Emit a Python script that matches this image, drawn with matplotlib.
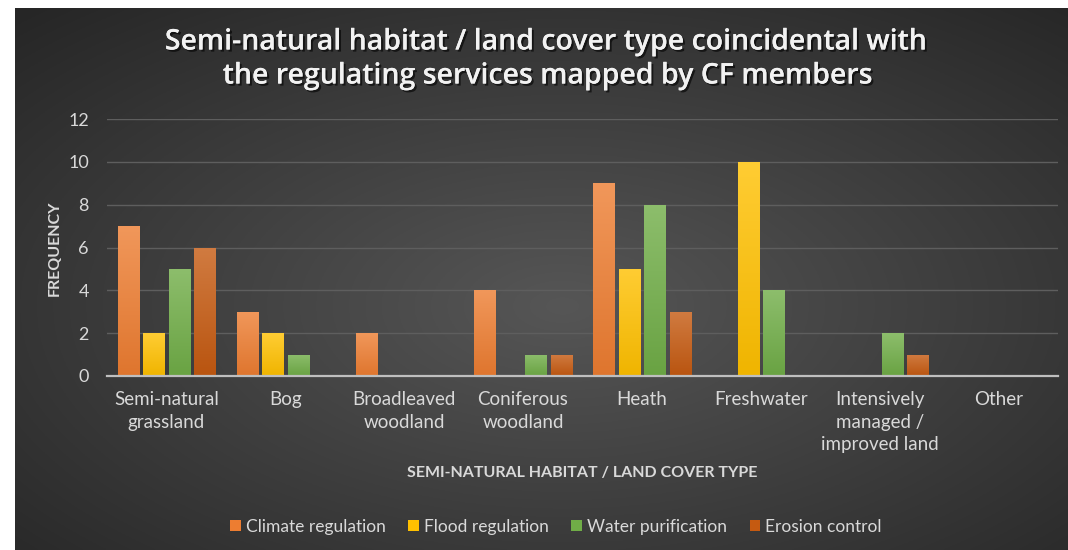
import numpy as np
import matplotlib.pyplot as plt
import matplotlib.patheffects as pe
from matplotlib.colors import to_rgb

categories = ["Semi-natural\ngrassland", "Bog", "Broadleaved\nwoodland", "Coniferous\nwoodland",
              "Heath", "Freshwater", "Intensively\nmanaged /\nimproved land", "Other"]
series_names = ["Climate regulation", "Flood regulation", "Water purification", "Erosion control"]
climate = [7, 3, 2, 4, 9, 0, 0, 0]
flood = [2, 2, 0, 0, 5, 10, 0, 0]
water = [5, 1, 0, 1, 8, 4, 2, 0]
erosion = [6, 0, 0, 1, 3, 0, 1, 0]
colors = ["#ED7D31", "#FFC000", "#70AD47", "#C55A11"]

text_col = "#d9d9d9"
plt.rcParams["font.family"] = ["Lato", "DejaVu Sans"]

fig = plt.figure(figsize=(10.68, 5.5), dpi=100, facecolor="white")

# dark panel with a radial gradient behind the chart
bg = fig.add_axes([15 / 1068, 0, 1053 / 1068, 542 / 550], zorder=0)
yy, xx = np.mgrid[0:1:300j, 0:1:600j]
r = np.sqrt(((xx - 0.52) / 0.75) ** 2 + ((yy - 0.45) / 0.75) ** 2)
r = np.clip(r, 0, 1)
inner = np.array(to_rgb("#565656"))
outer = np.array(to_rgb("#262626"))
img = inner * (1 - r[..., None]) + outer * r[..., None]
bg.imshow(img, aspect="auto", extent=[0, 1, 0, 1], origin="lower")
bg.axis("off")

ax = fig.add_axes([107 / 1068, 1 - 376 / 550, 951 / 1068, 257 / 550], zorder=1)
ax.patch.set_alpha(0)

x = np.arange(len(categories))
step = 0.214
width = 0.177


def gradient_bar(ax, bar, color):
    x0, y0 = bar.get_xy()
    w, h = bar.get_width(), bar.get_height()
    if h <= 0:
        return
    base = np.array(to_rgb(color))
    bottom = base * 0.94
    top = base + (1 - base) * 0.2
    g = np.linspace(0, 1, 64)[:, None, None]
    grad = bottom * (1 - g) + top * g
    im = ax.imshow(grad, extent=[x0, x0 + w, y0, y0 + h], origin="lower",
                   aspect="auto", zorder=2, interpolation="bilinear")
    im.set_clip_path(bar)


for i, (vals, col, name) in enumerate(zip([climate, flood, water, erosion], colors, series_names)):
    bars = ax.bar(x + (i - 1.5) * step, vals, width, color=col, label=name, zorder=2)
    for b in bars:
        gradient_bar(ax, b, col)

ax.set_xlim(-0.5, len(categories) - 0.5)
ax.set_ylim(0, 12)
ax.set_yticks(range(0, 13, 2))
ax.set_xticks(x)
ax.set_xticklabels(categories, fontsize=13.5, color=text_col, linespacing=1.38)
ax.tick_params(axis="y", labelsize=13, labelcolor=text_col, length=0, pad=13)
ax.tick_params(axis="x", length=0, pad=11)
ax.grid(axis="y", color="#5e5e5e", linewidth=1)
ax.set_axisbelow(True)
for s in ["top", "right", "left"]:
    ax.spines[s].set_visible(False)
ax.spines["bottom"].set_color("#bfbfbf")
ax.spines["bottom"].set_linewidth(1.6)
ax.spines["bottom"].set_zorder(3)

shadow = [pe.withSimplePatchShadow(offset=(1.5, -1.5), shadow_rgbFace="black", alpha=0.6), pe.Normal()]
title_font = dict(ha="center", va="center", fontsize=20.5, fontweight="semibold", color="#f2f2f2",
                  family=["Open Sans", "DejaVu Sans"], path_effects=shadow)
fig.text(0.511, 1 - 42 / 550, "Semi-natural habitat / land cover type coincidental with", **title_font)
fig.text(0.513, 1 - 76 / 550, "the regulating services mapped by CF members", **title_font)

fig.text(55 / 1068, 1 - 248 / 550, "FREQUENCY", rotation=90, ha="center", va="center",
         fontsize=11.5, fontweight="bold", color=text_col)
fig.text(582 / 1068, 1 - 473 / 550, "SEMI-NATURAL HABITAT / LAND COVER TYPE", ha="center", va="center",
         fontsize=11.5, fontweight="bold", color=text_col)

handles, labels = ax.get_legend_handles_labels()
fig.legend(handles, labels, loc="center", bbox_to_anchor=(556 / 1068, 1 - 527 / 550), ncol=4,
           frameon=False, fontsize=12.5, labelcolor=text_col, handlelength=0.6, handleheight=0.6,
           handletextpad=0.3, columnspacing=1.3)

fig.savefig("out.png", dpi=100, facecolor=fig.get_facecolor())
